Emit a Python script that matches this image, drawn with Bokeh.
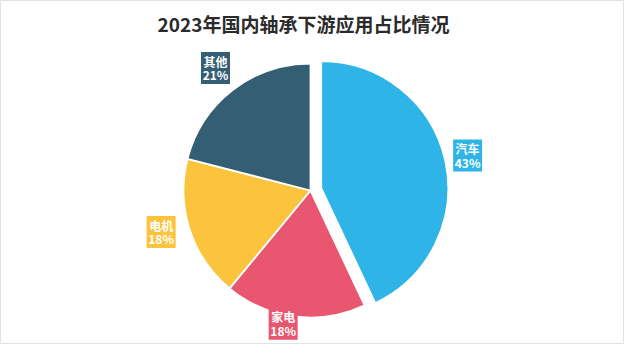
import numpy as np
from bokeh.plotting import figure
from bokeh.models import ColumnDataSource, Range1d
from bokeh.core.properties import value
from bokeh.embed import file_html
from bokeh.resources import INLINE

# ---- data ----
title_text = "2023年国内轴承下游应用占比情况"
categories = ["汽车", "家电", "电机", "其他"]
shares = [43, 18, 18, 21]

# ---- style ----
colors = ["#2EB4E6", "#E8576F", "#FCC33C", "#345E74"]
explode = [11, 0, 0, 0]          # px offset of each slice
label_dist = [150, 136, 155, 155]  # px from slice centre to label centre
label_nudge = [0, -4.4, -2.5, 0]   # degrees
FONT = "Noto Sans CJK SC"

W, H = 624, 344
CX, CY, R = 310, 154, 127

p = figure(width=W, height=H, output_backend="svg", toolbar_location=None,
           x_range=Range1d(0, W), y_range=Range1d(0, H), min_border=0,
           x_axis_location=None, y_axis_location=None)
p.grid.visible = False
p.background_fill_color = "white"
p.border_fill_color = "white"
p.outline_line_color = "#e3e3e3"

vals = np.array(shares, dtype=float)
frac = vals / vals.sum()
cum = np.cumsum(frac)
before = cum - frac
start_cw = np.pi / 2 - 2 * np.pi * before
end_cw = np.pi / 2 - 2 * np.pi * cum
mid = (start_cw + end_cw) / 2
ex = np.array(explode, dtype=float)
xs = CX + ex * np.cos(mid)
ys = CY + ex * np.sin(mid)

src = ColumnDataSource(dict(x=xs, y=ys, start=end_cw, end=start_cw, color=colors,
                            cat=categories))
p.wedge(x="x", y="y", radius=R, start_angle="start", end_angle="end",
        fill_color="color", line_color="white", line_width=1.8, source=src)

lang = mid + np.radians(label_nudge)
ld = np.array(label_dist, dtype=float)
lx = xs + ld * np.cos(lang)
ly = ys + ld * np.sin(lang)
lsrc = ColumnDataSource(dict(x=lx, y=ly, y1=ly + 6.8, y2=ly - 6.8, color=colors,
                             name=categories, pct=[f"{v}%" for v in shares]))
p.rect(x="x", y="y", width=29, height=32, fill_color="color", line_color=None,
       source=lsrc)
p.text(x="x", y="y1", text="name", text_align="center", text_baseline="middle",
       text_color="white", text_font=value(FONT), text_font_style="bold",
       text_font_size="12px", source=lsrc)
p.text(x="x", y="y2", text="pct", text_align="center", text_baseline="middle",
       text_color="white", text_font=value(FONT), text_font_style="bold",
       text_font_size="12px", source=lsrc)

p.text(x=[303], y=[321.5], text=[title_text], text_align="center",
       text_baseline="middle", text_color="#2b2b2b", text_font=value(FONT),
       text_font_style="bold", text_font_size="19px")

open("out.html", "w").write(file_html(p, INLINE))
